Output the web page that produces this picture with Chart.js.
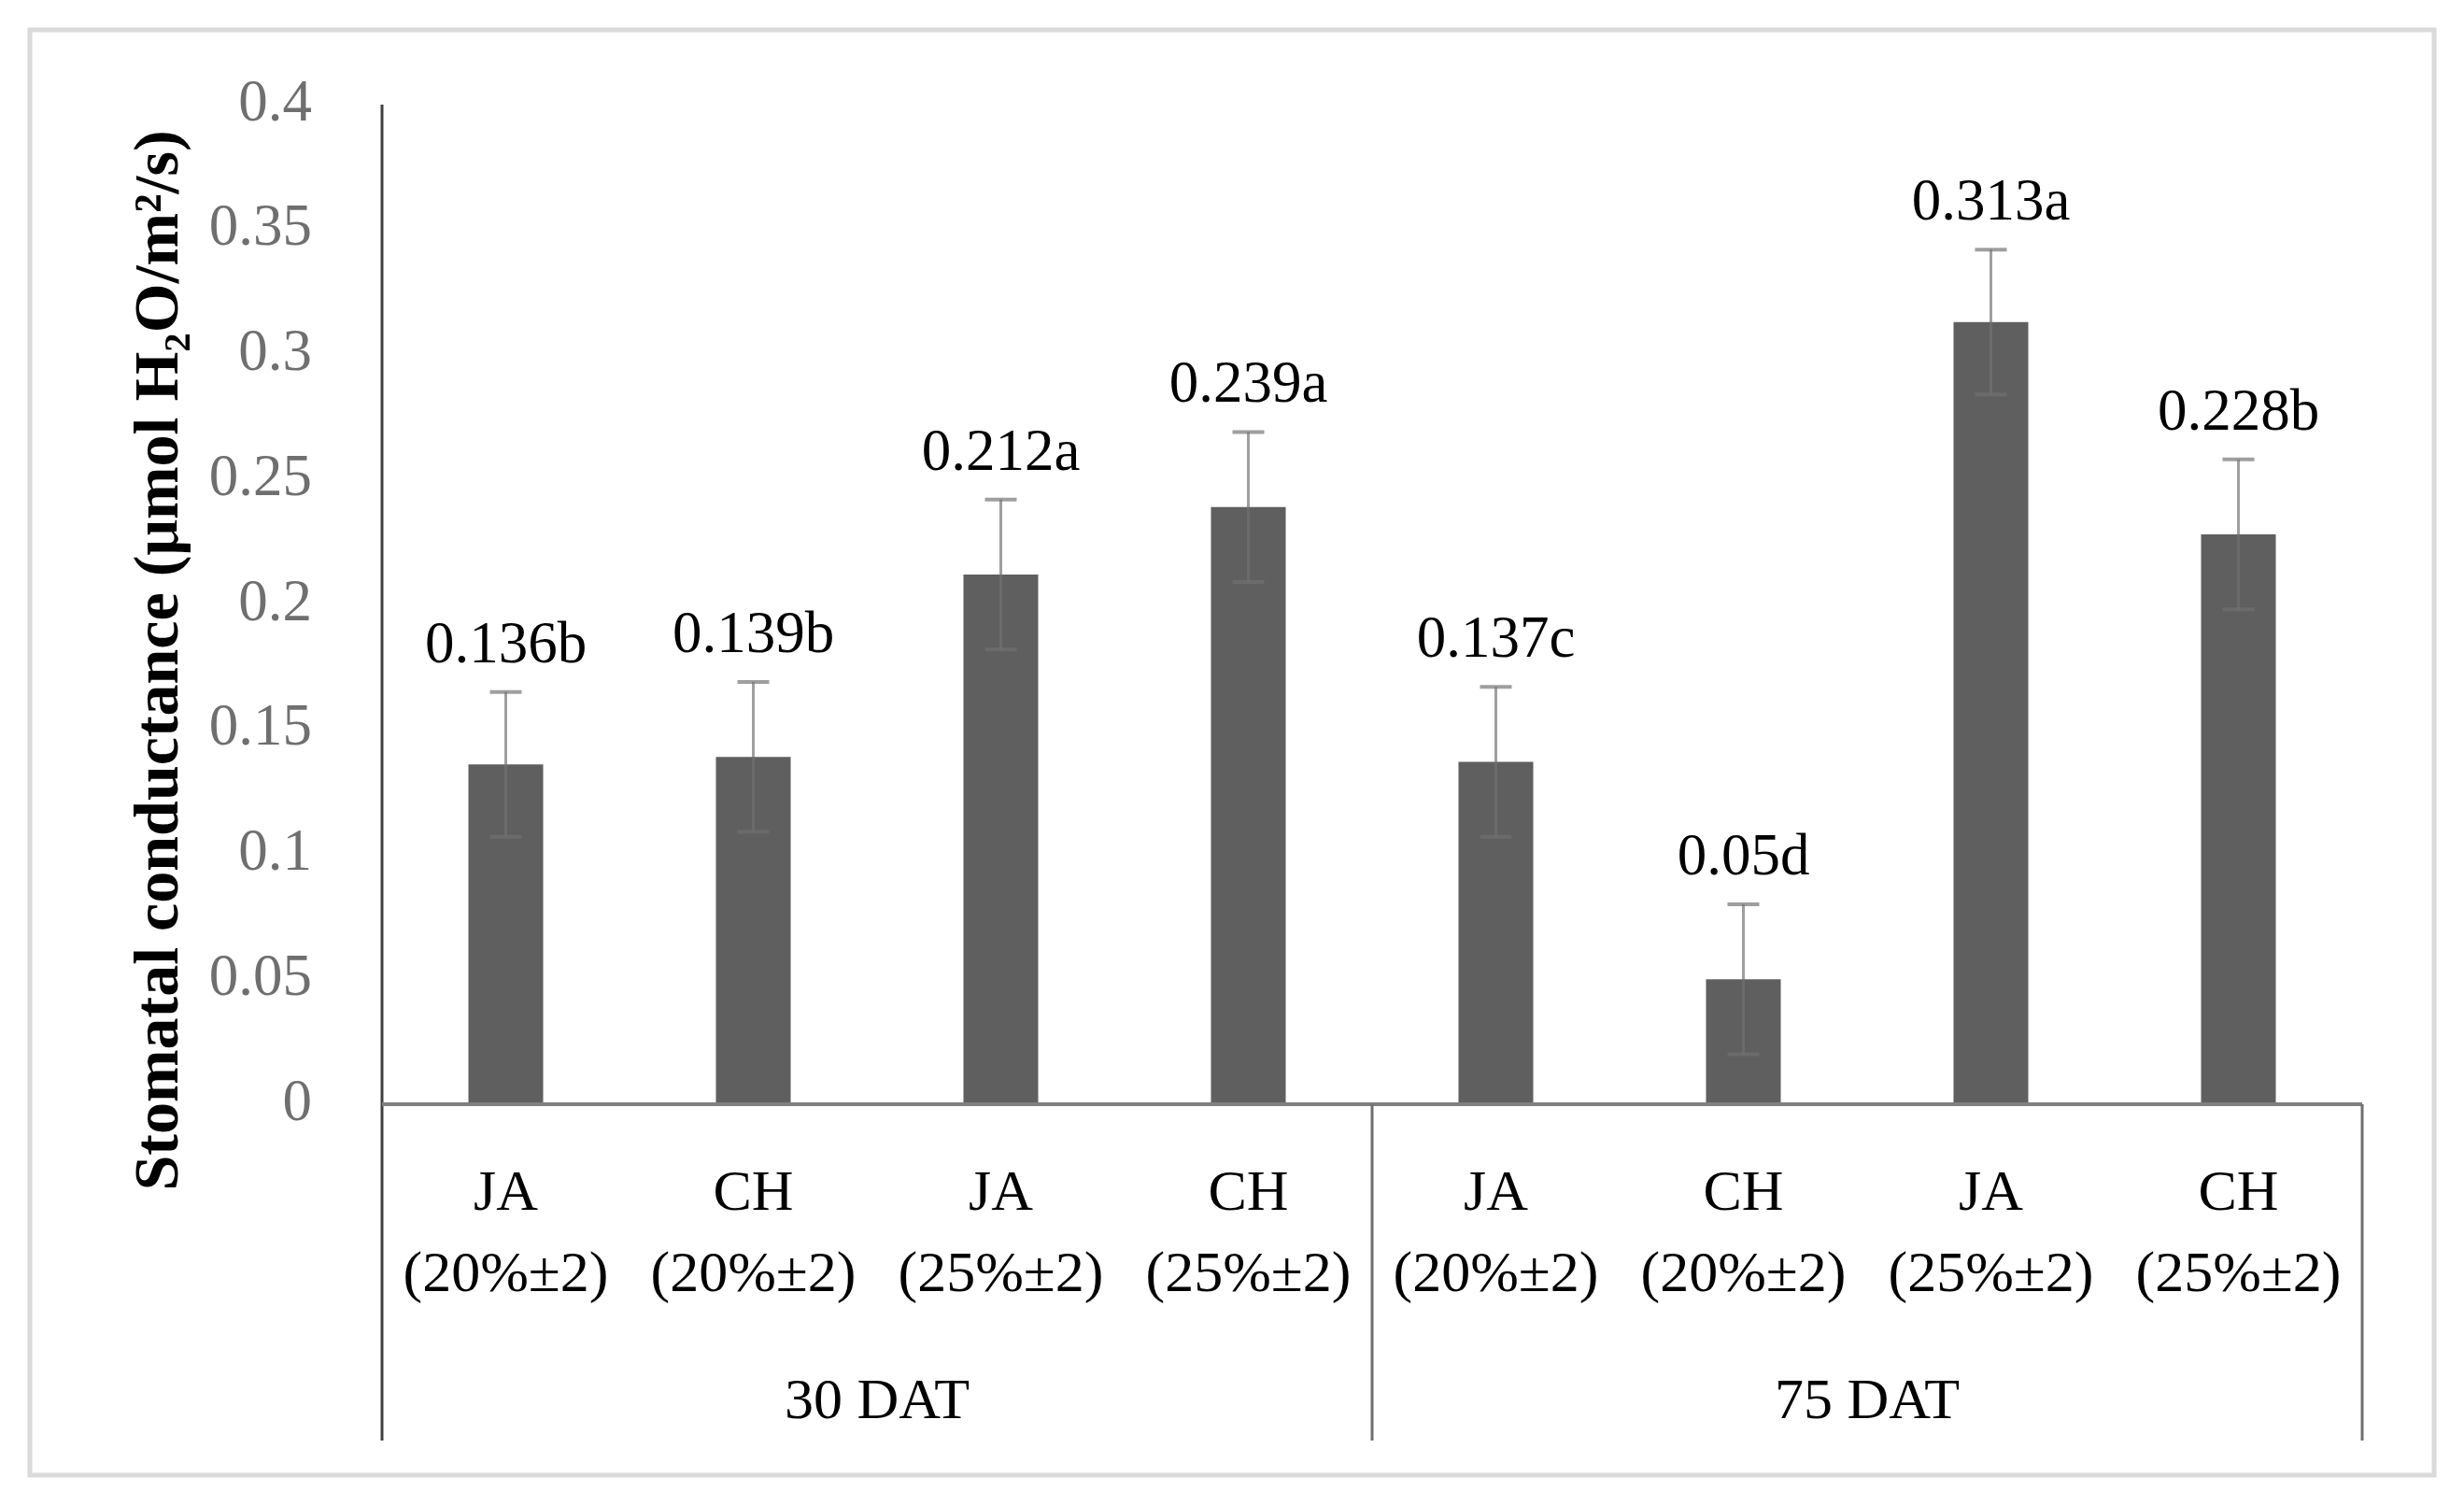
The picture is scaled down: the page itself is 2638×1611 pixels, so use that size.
<!DOCTYPE html>
<html><head><meta charset="utf-8">
<script src="https://cdn.jsdelivr.net/npm/chart.js@4.4.1/dist/chart.umd.min.js"></script>
<style>html,body{margin:0;padding:0;background:#fff;} canvas{display:block;}</style>
</head><body>
<canvas id="c" width="2638" height="1611" style="width:2638px;height:1611px"></canvas>
<script>
// ---- data ----
const treatments = [['JA','(20%±2)'],['CH','(20%±2)'],['JA','(25%±2)'],['CH','(25%±2)'],
                    ['JA','(20%±2)'],['CH','(20%±2)'],['JA','(25%±2)'],['CH','(25%±2)']];
const groups = ['30 DAT','75 DAT'];
const groupSizes = [4,4];
const values = [0.136,0.139,0.212,0.239,0.137,0.05,0.313,0.228];
const errors = [0.029,0.030,0.030,0.030,0.030,0.030,0.029,0.030];
const letters = ['b','b','a','a','c','d','a','b'];
const yTickLabels = ['0','0.05','0.1','0.15','0.2','0.25','0.3','0.35','0.4'];
const yTitle = 'Stomatal conductance (μmol H₂O/m²/s)';

const SERIF = '"Liberation Serif", "DejaVu Serif", serif';

const decor = {
  id:'decor',
  beforeDraw(chart){
    const ctx = chart.ctx;
    ctx.save();
    ctx.fillStyle = '#ffffff';
    ctx.fillRect(0,0,chart.width,chart.height);
    ctx.strokeStyle = '#dadada';
    ctx.lineWidth = 5;
    ctx.strokeRect(32,32,chart.width-64,chart.height-64);
    ctx.restore();
  },
  afterDatasetsDraw(chart){
    const ctx = chart.ctx, ys = chart.scales.y;
    const bars = chart.getDatasetMeta(0).data;
    ctx.save();
    bars.forEach((bar,i)=>{
      const x = bar.x;
      const yt = ys.getPixelForValue(values[i]+errors[i]);
      const yb = ys.getPixelForValue(values[i]-errors[i]);
      ctx.strokeStyle = 'rgba(114,114,114,0.68)';
      ctx.lineWidth = 3;
      ctx.beginPath(); ctx.moveTo(x,yt); ctx.lineTo(x,yb); ctx.stroke();
      ctx.lineWidth = 4;
      ctx.beginPath(); ctx.moveTo(x-17,yt); ctx.lineTo(x+17,yt);
      ctx.moveTo(x-17,yb); ctx.lineTo(x+17,yb); ctx.stroke();
      ctx.fillStyle = '#000000';
      ctx.font = '63px ' + SERIF;
      ctx.textAlign = 'center';
      ctx.textBaseline = 'alphabetic';
      ctx.fillText(String(values[i]) + letters[i], x, yt - 32);
    });
    ctx.restore();
  },
  afterDraw(chart){
    const ctx = chart.ctx, xs = chart.scales.x, ca = chart.chartArea;
    const bottomY = 1542;
    ctx.save();
    // y axis line
    ctx.strokeStyle = '#404040'; ctx.lineWidth = 3;
    ctx.beginPath(); ctx.moveTo(ca.left, ca.top); ctx.lineTo(ca.left, bottomY); ctx.stroke();
    // zero line
    ctx.strokeStyle = '#808080'; ctx.lineWidth = 4;
    ctx.beginPath(); ctx.moveTo(ca.left, ca.bottom); ctx.lineTo(ca.right, ca.bottom); ctx.stroke();
    // group separators
    const bounds = [ca.left];
    let idx = 0;
    groupSizes.forEach((n,g)=>{
      idx += n;
      if (idx < treatments.length) bounds.push((xs.getPixelForTick(idx-1)+xs.getPixelForTick(idx))/2);
      else bounds.push(ca.right);
    });
    ctx.strokeStyle = '#707070'; ctx.lineWidth = 3;
    bounds.slice(1).forEach(bx=>{
      ctx.beginPath(); ctx.moveTo(bx, ca.bottom); ctx.lineTo(bx, bottomY); ctx.stroke();
    });
    // group labels
    ctx.fillStyle = '#000000';
    ctx.font = '62px ' + SERIF;
    ctx.textAlign = 'center'; ctx.textBaseline = 'alphabetic';
    groups.forEach((g,i)=>{
      ctx.fillText(g, (bounds[i]+bounds[i+1])/2, 1518);
    });
    // y title
    ctx.save();
    ctx.translate(190, 707);
    ctx.rotate(-Math.PI/2);
    ctx.font = 'bold 68px ' + SERIF;
    ctx.textAlign = 'center'; ctx.textBaseline = 'alphabetic';
    ctx.fillText(yTitle, 0, 0);
    ctx.restore();
    ctx.restore();
  }
};

new Chart(document.getElementById('c'), {
  type: 'bar',
  data: {
    labels: treatments,
    datasets: [{
      data: values,
      backgroundColor: '#5f5f5f',
      borderWidth: 0,
      barPercentage: 0.302,
      categoryPercentage: 1.0
    }]
  },
  options: {
    responsive: false,
    animation: false,
    devicePixelRatio: 1,
    layout: { padding: { left: 0, top: 112, right: 109, bottom: 0 } },
    plugins: { legend: { display: false }, tooltip: { enabled: false }, title: { display: false } },
    scales: {
      x: {
        grid: { display: false },
        border: { display: false },
        ticks: {
          color: '#000000',
          font: { family: SERIF, size: 62, lineHeight: 1.403 },
          padding: 45,
          maxRotation: 0, minRotation: 0, autoSkip: false
        },
        afterFit(scale){ scale.height = 429; }
      },
      y: {
        min: 0, max: 0.4,
        grid: { display: false },
        border: { display: false },
        ticks: {
          stepSize: 0.05,
          color: '#6f6f6f',
          font: { family: SERIF, size: 63 },
          padding: 67,
          callback: (v, i) => yTickLabels[i]
        },
        afterFit(scale){ scale.width = 409; }
      }
    }
  },
  plugins: [decor]
});
</script>
</body></html>
